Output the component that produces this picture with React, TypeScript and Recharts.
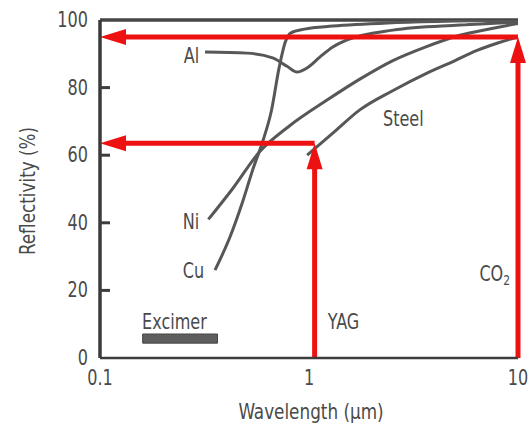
import React from "react";
import {
  LineChart,
  Line,
  XAxis,
  YAxis,
  ReferenceLine,
  ReferenceArea,
  ReferenceDot,
  Label,
} from "recharts";

// ---- data (wavelength in µm, reflectivity in %) ----
const alData = [
  { x: 0.318, y: 90.5 },
  { x: 0.505, y: 90.2 },
  { x: 0.67, y: 88.8 },
  { x: 0.785, y: 86.3 },
  { x: 0.876, y: 84.6 },
  { x: 0.978, y: 85.8 },
  { x: 1.13, y: 89.1 },
  { x: 1.3, y: 92 },
  { x: 1.52, y: 94.1 },
  { x: 2.52, y: 97 },
  { x: 5.27, y: 98.5 },
  { x: 10, y: 99.4 },
];

const cuData = [
  { x: 0.355, y: 26 },
  { x: 0.42, y: 36 },
  { x: 0.48, y: 46 },
  { x: 0.54, y: 56 },
  { x: 0.6, y: 64 },
  { x: 0.66, y: 73 },
  { x: 0.72, y: 86 },
  { x: 0.77, y: 93.5 },
  { x: 0.82, y: 96.2 },
  { x: 0.95, y: 97.3 },
  { x: 1.3, y: 98.2 },
  { x: 2.5, y: 99.2 },
  { x: 5, y: 99.7 },
  { x: 10, y: 100 },
];

const niData = [
  { x: 0.33, y: 41 },
  { x: 0.43, y: 50 },
  { x: 0.58, y: 61 },
  { x: 0.8, y: 68.5 },
  { x: 1.22, y: 76.3 },
  { x: 1.75, y: 82.5 },
  { x: 2.52, y: 88 },
  { x: 3.6, y: 92 },
  { x: 5.27, y: 95.5 },
  { x: 7.5, y: 97.5 },
  { x: 10, y: 99 },
];

const steelData = [
  { x: 0.98, y: 60 },
  { x: 1.3, y: 66.5 },
  { x: 1.75, y: 73.4 },
  { x: 2.5, y: 79 },
  { x: 3.67, y: 84.3 },
  { x: 5, y: 88 },
  { x: 6.37, y: 91 },
  { x: 8, y: 93.2 },
  { x: 10, y: 95 },
];

// laser wavelengths and read-off reflectivities
const yagWavelength = 1.064;
const yagReflectivity = 63.5;
const co2Wavelength = 10;
const co2Reflectivity = 95;

// excimer band
const excimerRange = [0.16, 0.365];
const excimerBand = [4.4, 7.1];

const xTicks = [0.1, 1, 10];
const yTicks = [0, 20, 40, 60, 80, 100];

// annotation labels: [text, x, y, anchor]
const curveLabels: [string, number, number, string][] = [
  ["Al", 0.298, 89.3, "end"],
  ["Ni", 0.298, 40.2, "end"],
  ["Cu", 0.315, 25.7, "end"],
  ["Steel", 2.26, 70.7, "start"],
  ["Excimer", 0.159, 10.7, "start"],
  ["YAG", 1.23, 10.7, "start"],
];

// ---- styles ----
const FONT = "'DejaVu Sans Condensed', 'DejaVu Sans', sans-serif";
const TEXT = "#4a4a4a";
const CURVE = "#575757";
const RED = "#ee1111";
const SQUEEZE = 0.85;

const CText = ({ x, y, anchor = "middle", size = 21, rotate = 0, children }: any) => (
  <text
    transform={`translate(${x},${y}) rotate(${rotate}) scale(${SQUEEZE},1)`}
    x={0}
    y={0}
    textAnchor={anchor}
    dominantBaseline="central"
    fill={TEXT}
    fontSize={size}
    fontFamily={FONT}
    fontStretch="condensed"
  >
    {children}
  </text>
);

const Arrow = (props: any) => {
  const { x1, y1, x2, y2 } = props;
  const dx = x2 - x1;
  const dy = y2 - y1;
  const len = Math.hypot(dx, dy) || 1;
  const ux = dx / len;
  const uy = dy / len;
  const hl = 26;
  const hw = 8;
  const bx = x2 - ux * hl;
  const by = y2 - uy * hl;
  const px = -uy;
  const py = ux;
  return (
    <g>
      <line x1={x1} y1={y1} x2={bx + ux * 3} y2={by + uy * 3} stroke={RED} strokeWidth={5} />
      <polygon
        points={`${x2},${y2} ${bx + px * hw},${by + py * hw} ${bx - px * hw},${by - py * hw}`}
        fill={RED}
      />
    </g>
  );
};

const YTick = (props: any) => {
  const { x, y, payload } = props;
  const v = payload.value;
  return (
    <g>
      <CText x={x} y={y} anchor="end">
        {v}
      </CText>
      {v > 0 && v < 100 && (
        <line x1={x + 12} x2={x + 22} y1={y} y2={y} stroke="#3d3d3d" strokeWidth={3} />
      )}
    </g>
  );
};

const XTick = (props: any) => {
  const { x, y, payload } = props;
  return (
    <CText x={x} y={y}>
      {payload.value}
    </CText>
  );
};

const makeTextShape = (text: string, anchor: string) => (p: any) => (
  <CText x={p.cx} y={p.cy} anchor={anchor}>
    {text}
  </CText>
);

const co2Shape = (p: any) => (
  <CText x={p.cx} y={p.cy} anchor="end">
    CO
    <tspan fontSize={14} dy={6}>
      2
    </tspan>
  </CText>
);

export default function App() {
  return (
    <div style={{ position: "absolute", left: 0, top: 0, background: "#fff" }}>
      <LineChart
        width={531}
        height={426}
        margin={{ top: 20, right: 13, bottom: 28, left: 40 }}
      >
        <XAxis
          dataKey="x"
          type="number"
          scale="log"
          domain={[0.1, 10]}
          ticks={xTicks}
          allowDataOverflow
          tickLine={false}
          tickSize={0}
          tickMargin={20}
          height={40}
          axisLine={{ stroke: "#3d3d3d", strokeWidth: 2.5 }}
          tick={<XTick />}
        >
          <Label
            content={() => (
              <CText x={311} y={411} size={22}>
                Wavelength (μm)
              </CText>
            )}
          />
        </XAxis>
        <YAxis
          type="number"
          domain={[0, 100]}
          ticks={yTicks}
          allowDataOverflow
          width={60}
          tickLine={false}
          tickSize={0}
          tickMargin={12}
          axisLine={{ stroke: "#3a3a3a", strokeWidth: 3.5 }}
          tick={<YTick />}
        >
          <Label
            content={() => (
              <CText x={27} y={191} size={22} rotate={-90}>
                Reflectivity (%)
              </CText>
            )}
          />
        </YAxis>

        <ReferenceLine y={100} stroke="#454545" strokeWidth={3.5} ifOverflow="visible" />

        <Line data={alData} dataKey="y" type="monotone" stroke={CURVE} strokeWidth={3} dot={false} isAnimationActive={false} />
        <Line data={cuData} dataKey="y" type="monotone" stroke={CURVE} strokeWidth={3} dot={false} isAnimationActive={false} />
        <Line data={niData} dataKey="y" type="monotone" stroke={CURVE} strokeWidth={3} dot={false} isAnimationActive={false} />
        <Line data={steelData} dataKey="y" type="monotone" stroke={CURVE} strokeWidth={3} dot={false} isAnimationActive={false} />

        <ReferenceArea
          x1={excimerRange[0]}
          x2={excimerRange[1]}
          y1={excimerBand[0]}
          y2={excimerBand[1]}
          fill="#5e5e5e"
          fillOpacity={1}
          stroke="#444"
          ifOverflow="visible"
        />

        {/* CO2 */}
        <ReferenceLine
          segment={[
            { x: co2Wavelength, y: 0 },
            { x: co2Wavelength, y: co2Reflectivity },
          ]}
          shape={Arrow}
          ifOverflow="visible"
        />
        <ReferenceLine
          segment={[
            { x: co2Wavelength, y: co2Reflectivity },
            { x: 0.1, y: co2Reflectivity },
          ]}
          shape={Arrow}
          ifOverflow="visible"
        />
        {/* YAG */}
        <ReferenceLine
          segment={[
            { x: yagWavelength, y: 0 },
            { x: yagWavelength, y: yagReflectivity },
          ]}
          shape={Arrow}
          ifOverflow="visible"
        />
        <ReferenceLine
          segment={[
            { x: yagWavelength, y: yagReflectivity },
            { x: 0.1, y: yagReflectivity },
          ]}
          shape={Arrow}
          ifOverflow="visible"
        />

        {curveLabels.map(([t, x, y, a]) => (
          <ReferenceDot key={t} x={x} y={y} r={0} ifOverflow="visible" shape={makeTextShape(t, a)} />
        ))}
        <ReferenceDot x={9.16} y={24.9} r={0} ifOverflow="visible" shape={co2Shape} />
      </LineChart>
    </div>
  );
}
